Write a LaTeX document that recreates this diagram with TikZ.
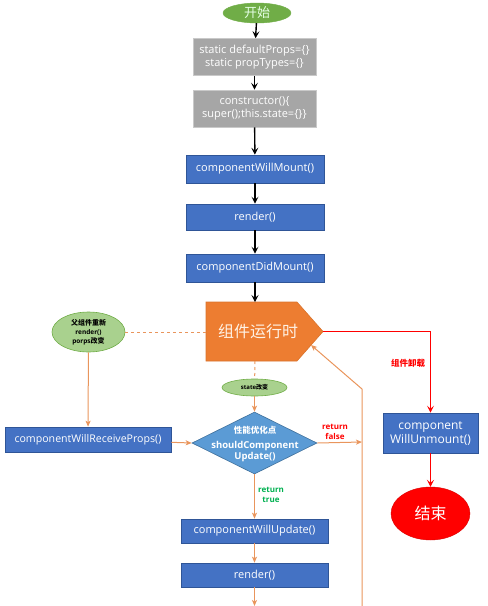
\documentclass[tikz,border=0pt]{standalone}
\usepackage{fontspec}
\setmainfont{Open Sans}
\newfontfamily\cjk{Noto Sans CJK SC}
\usetikzlibrary{shapes.geometric,arrows.meta}
\definecolor{bl}{HTML}{4472C4}
\definecolor{blD}{HTML}{2F5597}
\definecolor{dia}{HTML}{5B9BD5}
\definecolor{diaD}{HTML}{41719C}
\definecolor{gr}{HTML}{A6A6A6}
\definecolor{grD}{HTML}{C9C9C9}
\definecolor{orF}{HTML}{ED7D31}
\definecolor{orD}{HTML}{D9732C}
\definecolor{orL}{HTML}{E9955C}
\definecolor{gF}{HTML}{A9D18E}
\definecolor{gD}{HTML}{70AD47}
\definecolor{gS}{HTML}{70AD47}
\definecolor{rd}{HTML}{FF0000}
\definecolor{gtxt}{HTML}{00B050}
\begin{document}
\begin{tikzpicture}[x=1pt,y=-1pt,
  grayb/.style={draw=grD,line width=0.6pt,fill=gr,text=white,minimum width=123pt,minimum height=37pt,inner sep=0pt,align=center,font=\fontsize{11}{13}\selectfont},
  blueb/.style={draw=blD,line width=0.6pt,fill=bl,text=white,minimum width=138pt,minimum height=28pt,inner sep=0pt,align=center,font=\fontsize{11}{13}\selectfont},
  gell/.style={ellipse,draw=gD,line width=0.6pt,fill=gF,inner sep=0pt,align=center,font=\bfseries\fontsize{6.5}{9}\selectfont},
  barrow/.style={line width=1.4pt,-{Stealth[length=7pt,width=7pt,inset=3pt]}},
  rarrow/.style={draw=rd,line width=1.3pt,-{Stealth[length=7pt,width=7pt,inset=3pt]}},
  oarrow/.style={draw=orL,line width=1pt,-{Stealth[length=6pt,width=5pt,inset=1.5pt]}},
  oline/.style={draw=orL,line width=1pt},
  lbl/.style={inner sep=0pt,align=center,font=\bfseries\fontsize{8}{10}\selectfont}]
\useasboundingbox (0,0) rectangle (488,606);
% start
\node[ellipse,draw=gD,fill=gS,minimum width=68pt,minimum height=20pt,inner sep=0pt,text=green!10,font=\cjk\fontsize{13}{14}\selectfont] (start) at (257,13) {开始};
\node[grayb] (g1) at (254.5,57) {static defaultProps=\{\}\\static propTypes=\{\}};
\node[grayb] (g2) at (254.5,108.5) {constructor()\{\\super();this.state=\{\}\}};
\node[blueb] (m1) at (255,169) {componentWillMount()};
\node[blueb,minimum height=26pt] (m2) at (255,217) {render()};
\node[blueb] (m3) at (255,268) {componentDidMount()};
\draw[barrow] (start) -- (g1);
\draw[barrow] (g1) -- (g2);
\draw[barrow] (g2) -- (m1);
\draw[barrow] (m1) -- (m2);
\draw[barrow] (m2) -- (m3);
% running pentagon
\filldraw[fill=orF,draw=orD,line width=0.6pt] (206,302) -- (297,302) -- (323,331.5) -- (297,361) -- (206,361) -- cycle;
\node[inner sep=0pt,text=orange!10,font=\cjk\fontsize{16}{18}\selectfont] (run) at (258,331) {组件运行时};
\coordinate (runN) at (255,302);
\coordinate (runS) at (255,361);
\coordinate (runW) at (206,332);
\coordinate (runE) at (323,331.5);
\coordinate (runSE) at (311,345);
\draw[barrow] (m3.south) -- (runN);
% unmount
\node[blueb,minimum width=95pt,minimum height=40pt,font=\fontsize{12}{14}\selectfont] (unm) at (430.5,433) {component\\WillUnmount()};
\node[ellipse,fill=rd,draw=rd!85!black,minimum width=79pt,minimum height=53pt,inner sep=0pt,text=white,font=\cjk\fontsize{16}{18}\selectfont] (end) at (430.5,513.5) {结束};
\draw[rarrow] (runE) -| (unm.north);
\draw[rarrow] (unm) -- (end);
\node[lbl,text=rd,font=\cjk\bfseries\fontsize{8.5}{10}\selectfont] (unl) at (408,363) {组件卸载};
% parent ellipse
\node[gell,minimum width=73pt,minimum height=40pt] (par) at (88.5,332) {{\cjk\fontsize{7}{9}\selectfont 父组件重新}\\render()\\porps{\cjk\fontsize{7}{9}\selectfont 改变}};
\draw[oline,dashed] (par) -- (runW);
\node[blueb,minimum width=166pt,minimum height=25pt,font=\fontsize{10.6}{13}\selectfont] (cwrp) at (88,439.5) {componentWillReceiveProps()};
\draw[oarrow] (par) -- (cwrp);
% state ellipse
\node[gell,minimum width=65pt,minimum height=17pt,font=\bfseries\fontsize{6}{8}\selectfont] (st) at (254.5,387.5) {state{\cjk 改变}};
\draw[oline,dashed] (runS) -- (st);
% diamond
\node[diamond,draw=diaD,line width=0.6pt,fill=dia,minimum width=125pt,minimum height=62pt,inner sep=0pt] (scu) at (254.5,443) {};
\node[inner sep=0pt,align=center,text=white,font=\bfseries\fontsize{9.5}{11}\selectfont] (scut) at (255,444) {{\cjk\fontsize{8.5}{10}\selectfont 性能优化点}\\[4pt]shouldComponent\\Update()};
\draw[oarrow] (st) -- (scu.north);
\draw[oarrow] (cwrp) -- (scu.west);
% loop back
\coordinate (loopB) at (362,606);
\coordinate (loopK) at (362,389);
\coordinate (rf) at (362,442);
\draw[oarrow] (loopB) -- (loopK) -- (runSE);
\draw[oarrow] (scu.east) -- (rf);
\node[lbl,text=rd] (rfl) at (335,432) {return\\false};
\node[lbl,text=gtxt] (rtl) at (271,495) {return\\true};
% update
\node[blueb,minimum width=147pt,minimum height=24pt] (cwu) at (254.5,531) {componentWillUpdate()};
\node[blueb,minimum width=147pt,minimum height=24pt] (r2) at (254.5,575) {render()};
\coordinate (bot) at (254.5,606);
\draw[oarrow] (scu.south) -- (cwu);
\draw[oarrow] (cwu) -- (r2);
\draw[oarrow] (r2) -- (bot);
\end{tikzpicture}
\end{document}
